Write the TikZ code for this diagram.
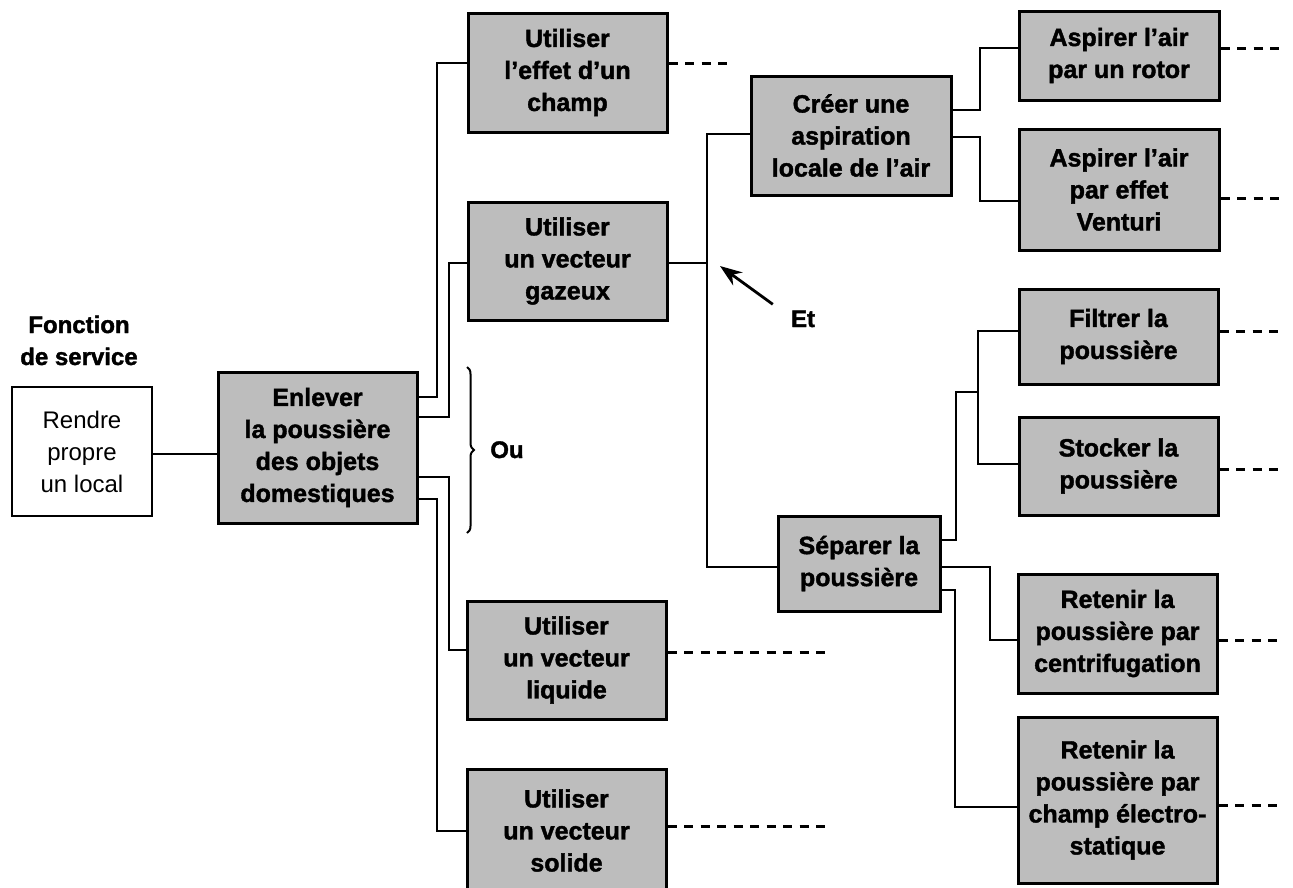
\documentclass[tikz,border=0pt]{standalone}
\usepackage{fontspec}
\setmainfont{Liberation Sans}[BoldFeatures={FakeBold=1.6}]
\usetikzlibrary{arrows.meta,decorations.pathreplacing}
\definecolor{boxgray}{gray}{0.74}
\begin{document}
\begin{tikzpicture}[x=1pt,y=-1pt,
  box/.style={draw=black, fill=boxgray, line width=3pt, inner sep=0pt,
    align=center, font=\bfseries\fontsize{25}{32}\selectfont},
  plainbox/.style={draw=black, fill=white, line width=2.4pt, inner sep=0pt,
    align=center, font=\fontsize{24}{32}\selectfont},
  link/.style={line width=2.8pt, line join=miter},
  lead/.style={line width=3pt, dash pattern=on 9pt off 7.5pt},
  lbl/.style={font=\bfseries\fontsize{24}{30}\selectfont, inner sep=0pt, anchor=base}
]
\useasboundingbox (0,0) rectangle (1293,887);

% headings and annotations
\node[lbl] (fs1) at (79,333) {Fonction};
\node[lbl] (fs2) at (79,365) {de service};
\node[lbl] (ou) at (507,458) {Ou};
\node[lbl] (et) at (803,327) {Et};

% service function and main function
\node[plainbox, minimum width=140, minimum height=129] (rend) at (82,451.5)
  {Rendre\\propre\\un local};
\node[box, minimum width=199, minimum height=151] (enl) at (317.5,447.5)
  {Enlever\\la poussière\\des objets\\domestiques};

% alternative means
\node[box, minimum width=199, minimum height=119] (ueff) at (567.5,72.5)
  {Utiliser\\l’effet d’un\\champ};
\node[box, minimum width=199, minimum height=118] (ugaz) at (567.5,261)
  {Utiliser\\un vecteur\\gazeux};
\node[box, minimum width=199, minimum height=118] (uliq) at (566.5,660)
  {Utiliser\\un vecteur\\liquide};
\node[box, minimum width=199, minimum height=123] (usol) at (566.5,830.5)
  {Utiliser\\un vecteur\\solide};

% sub-functions of the gaseous carrier
\node[box, minimum width=200, minimum height=119] (creer) at (851,135.5)
  {Créer une\\aspiration\\locale de l’air};
\node[box, minimum width=162, minimum height=95] (sep) at (859,563.5)
  {Séparer la\\poussière};

% solutions
\node[box, minimum width=200, minimum height=89] (arot) at (1119,55.5)
  {Aspirer l’air\\par un rotor};
\node[box, minimum width=200, minimum height=121] (aven) at (1119,189.5)
  {Aspirer l’air\\par effet\\Venturi};
\node[box, minimum width=199, minimum height=95] (filt) at (1118.5,336.5)
  {Filtrer la\\poussière};
\node[box, minimum width=199, minimum height=98] (stoc) at (1118.5,466)
  {Stocker la\\poussière};
\node[box, minimum width=199, minimum height=119] (rcen) at (1117.5,633.5)
  {Retenir la\\poussière par\\centrifugation};
\node[box, minimum width=199, minimum height=166] (rele) at (1117.5,800)
  {Retenir la\\poussière par\\champ électro-\\statique};

% tree connectors
\draw[link] (rend.east |- 0,454) -- (enl.west |- 0,454);
\draw[link] (enl.east |- 0,397) -| (437,63) -- (ueff.west |- 0,63);
\draw[link] (enl.east |- 0,417) -| (449,263) -- (ugaz.west |- 0,263);
\draw[link] (enl.east |- 0,477) -| (449,650) -- (uliq.west |- 0,650);
\draw[link] (enl.east |- 0,499) -| (437,831) -- (usol.west |- 0,831);

\draw[link] (ugaz.east |- 0,263) -- (707,263);
\draw[link] (creer.west |- 0,134) -| (707,567) -- (sep.west |- 0,567);

\draw[link] (creer.east |- 0,110) -| (980,48) -- (arot.west |- 0,48);
\draw[link] (creer.east |- 0,137) -| (980,201) -- (aven.west |- 0,201);

\draw[link] (sep.east |- 0,540) -| (956,392) -- (978,392);
\draw[link] (filt.west |- 0,331) -| (978,464) -- (stoc.west |- 0,464);
\draw[link] (sep.east |- 0,567) -| (990,640) -- (rcen.west |- 0,640);
\draw[link] (sep.east |- 0,590) -| (955,807) -- (rele.west |- 0,807);

% open-ended dashed leads
\draw[lead] (ueff.east |- 0,63) -- (733,63);
\draw[lead] (uliq.east |- 0,652) -- (832,652);
\draw[lead] (usol.east |- 0,826) -- (832,826);
\draw[lead] (arot.east |- 0,48) -- (1285,48);
\draw[lead] (aven.east |- 0,198) -- (1285,198);
\draw[lead] (filt.east |- 0,331) -- (1285,331);
\draw[lead] (stoc.east |- 0,469) -- (1285,469);
\draw[lead] (rcen.east |- 0,640) -- (1282,640);
\draw[lead] (rele.east |- 0,805) -- (1282,805);

% "Ou" brace and "Et" pointer
\draw[line width=2pt, decorate, decoration={brace, amplitude=7pt}] (467,367) -- (467,533);
\draw[line width=2.8pt, -{Stealth[length=22pt,width=16pt]}] (et.north west) ++(-18,-6) -- (720,266);
\end{tikzpicture}
\end{document}
